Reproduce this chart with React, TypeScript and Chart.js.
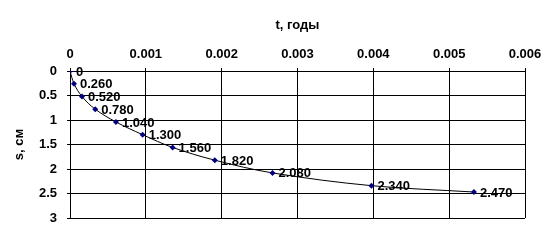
import React, { useEffect, useRef } from "react";
import { Chart, registerables } from "chart.js";

Chart.register(...registerables);

const tValues = [0, 0.000053, 0.000158, 0.000333, 0.000606, 0.000958, 0.001353, 0.00191, 0.00267, 0.003975, 0.005327];
const sValues = [0, 0.26, 0.52, 0.78, 1.04, 1.3, 1.56, 1.82, 2.08, 2.34, 2.47];
const pointLabels = ["0", "0.260", "0.520", "0.780", "1.040", "1.300", "1.560", "1.820", "2.080", "2.340", "2.470"];
const xTitle = "t, годы";
const yTitle = "s, см";

const FONT = "'Liberation Sans', Arial, sans-serif";

const labelPlugin = {
  id: "pointLabels",
  afterDatasetsDraw(chart: any) {
    const ctx = chart.ctx;
    const meta = chart.getDatasetMeta(0);
    ctx.save();
    ctx.font = `bold 13px ${FONT}`;
    ctx.fillStyle = "#000";
    ctx.textAlign = "left";
    ctx.textBaseline = "middle";
    meta.data.forEach((el: any, i: number) => {
      ctx.fillText(pointLabels[i], el.x + 6, el.y + 1);
    });
    ctx.restore();
  },
};

export default function App() {
  const ref = useRef<HTMLCanvasElement>(null);
  useEffect(() => {
    if (!ref.current) return;
    const chart = new Chart(ref.current, {
      type: "scatter",
      data: {
        datasets: [
          {
            data: tValues.map((t, i) => ({ x: t, y: sValues[i] })),
            showLine: true,
            borderColor: "#000000",
            borderWidth: 1,
            tension: 0.35,
            pointStyle: "rectRot",
            pointRadius: 3,
            pointBackgroundColor: "#000080",
            pointBorderColor: "#000080",
            pointBorderWidth: 0,
          },
        ],
      },
      options: {
        animation: false,
        responsive: false,
        maintainAspectRatio: false,
        layout: { padding: { top: 0, left: 0, right: 34, bottom: 27 } },
        plugins: { legend: { display: false }, tooltip: { enabled: false } },
        scales: {
          x: {
            type: "linear",
            position: "top",
            min: 0,
            max: 0.006,
            afterFit: (s: any) => {
              s.height = 71;
            },
            ticks: {
              stepSize: 0.001,
              padding: 6,
              color: "#000",
              font: { family: FONT, size: 13, weight: "bold" },
              callback: (v: any) => (v === 0 ? "0" : Number(v).toFixed(3)),
            },
            grid: { color: "#000", lineWidth: 1, tickLength: 3 },
            border: { color: "#000" },
            title: {
              display: true,
              text: xTitle,
              color: "#000",
              font: { family: FONT, size: 13, weight: "bold" },
              padding: { top: 18, bottom: 0 },
            },
          },
          y: {
            type: "linear",
            reverse: true,
            min: 0,
            max: 3,
            afterFit: (s: any) => {
              s.width = 70;
            },
            ticks: {
              stepSize: 0.5,
              padding: 10,
              color: "#000",
              font: { family: FONT, size: 13, weight: "bold" },
              callback: (v: any) => String(v),
            },
            grid: { color: "#000", lineWidth: 1, tickLength: 3 },
            border: { color: "#000" },
            title: {
              display: true,
              text: yTitle,
              color: "#000",
              font: { family: FONT, size: 13, weight: "bold" },
              padding: { top: 12, bottom: 0 },
            },
          },
        },
      },
      plugins: [labelPlugin],
    });
    return () => chart.destroy();
  }, []);
  return (
    <div style={{ position: "fixed", left: 0, top: 0, width: 559, height: 245, background: "#fff" }}>
      <canvas ref={ref} width={559} height={245} style={{ display: "block" }} />
    </div>
  );
}
